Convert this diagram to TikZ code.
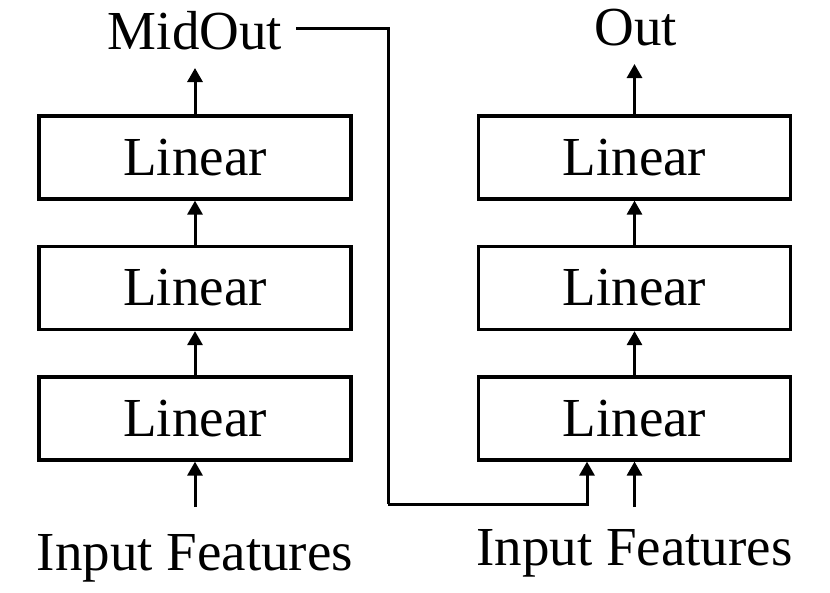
\documentclass[tikz,border=0pt]{standalone}
\usepackage{fontspec}
\setmainfont{Liberation Serif}
\usetikzlibrary{arrows.meta}
\begin{document}
\begin{tikzpicture}[x=1pt,y=-1pt,
  lay/.style={draw,line width=3.2pt,minimum width=312pt,minimum height=83pt,inner sep=0pt,font=\fontsize{55}{60}\selectfont},
  lbl/.style={anchor=base,inner sep=0pt,font=\fontsize{55}{60}\selectfont},
  arr/.style={line width=3pt,-{Triangle[width=15pt,length=14pt]}},
  wire/.style={line width=3pt}]
\useasboundingbox (0,0) rectangle (830,592);
% left column
\node[lay] (L1) at (195,157.5) {Linear};
\node[lay] (L2) at (195,288) {Linear};
\node[lay] (L3) at (195,418.5) {Linear};
\node[lbl] (mid) at (195,49) {MidOut};
\node[lbl] (inL) at (195,570) {Input Features};
% right column
\node[lay] (R1) at (634.5,157.5) {Linear};
\node[lay] (R2) at (634.5,288) {Linear};
\node[lay] (R3) at (634.5,418.5) {Linear};
\node[lbl] (out) at (636,45) {Out};
\node[lbl] (inR) at (634.5,565) {Input Features};
% arrows
\draw[arr] (L3.north) -- (L2.south);
\draw[arr] (L2.north) -- (L1.south);
\draw[arr] (L1.north) -- ([yshift=-19pt]mid.base);
\draw[arr] ([yshift=63pt]inL.base) -- (L3.south);
\draw[arr] (R3.north) -- (R2.south);
\draw[arr] (R2.north) -- (R1.south);
\draw[arr] (R1.north) -- ([yshift=-19pt,xshift=-1.5pt]out.base);
\draw[arr] ([yshift=58pt]inR.base) -- (R3.south);
% skip connection
\coordinate (c1) at (388,504);
\draw[wire] ([xshift=14pt,yshift=21pt]mid.base east) -| (c1);
\draw[arr] (c1) -| ([xshift=-47.5pt]R3.south);
\end{tikzpicture}
\end{document}
